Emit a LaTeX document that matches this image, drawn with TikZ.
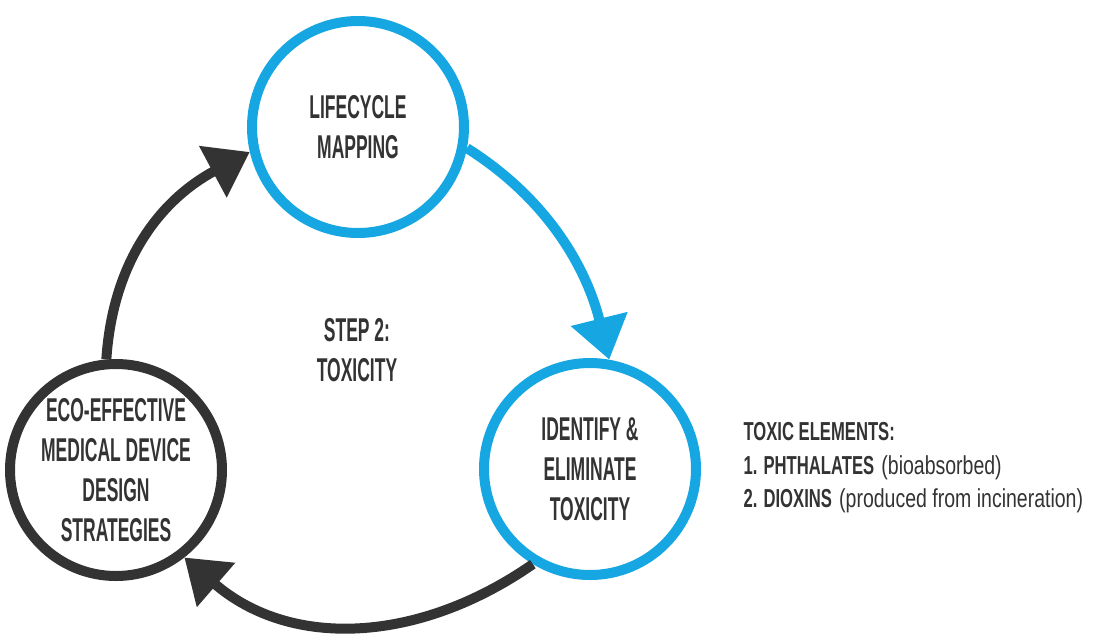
\documentclass[tikz,border=0pt]{standalone}
\usepackage{fontspec}
\setmainfont{Liberation Sans}
\newfontfamily\circfont{Liberation Sans}[FakeStretch=0.53]
\newfontfamily\notefont{Liberation Sans}[FakeStretch=0.64]
\newfontfamily\notelight{Liberation Sans}[FakeStretch=0.75]
\usetikzlibrary{arrows.meta}
\definecolor{cycleblue}{RGB}{22,167,226}
\definecolor{cycledark}{RGB}{51,51,51}

\begin{document}
\begin{tikzpicture}[x=1pt,y=-1pt,
		stage/.style={circle,draw=#1,line width=10pt,minimum size=212pt,inner sep=0pt,
			text=cycledark,align=center,font=\circfont\bfseries\fontsize{33}{40}\selectfont},
		flow/.style={draw=#1,line width=10pt,-{Triangle[length=42pt,width=56pt]}}]
			\useasboundingbox (0,0) rectangle (1094,633);
			
			% Stages of the cycle
			\node[stage=cycleblue] (life) at (358,127) {LIFECYCLE\\MAPPING};
			\node[stage=cycleblue] (elim) at (590,469) {IDENTIFY \&\\ELIMINATE\\TOXICITY};
			\node[stage=cycledark] (eco) at (116,470) {ECO-EFFECTIVE\\MEDICAL DEVICE\\DESIGN\\STRATEGIES};
			
			% Step label in the middle
			\node[text=cycledark,align=center,font=\circfont\bfseries\fontsize{33}{40}\selectfont] (step) at (357,350) {STEP 2:\\TOXICITY};
			
			% Arrows between stages
			\draw[flow=cycleblue] (life.-11) .. controls (546,198) and (586,266) .. (elim.80);
			\draw[flow=cycledark] (elim.239) .. controls (418,644) and (290,649) .. (eco.-52);
			\draw[flow=cycledark] (eco.95) .. controls (113,259) and (162,199) .. (life.193);
			
			% Notes on the right
			\node[anchor=west,align=left,text=cycledark,font=\fontsize{26}{33.5}\selectfont] (toxic) at (740,468)
				{{\notefont\bfseries TOXIC ELEMENTS:}\\
				 {\notefont\bfseries 1. PHTHALATES} {\notelight(bioabsorbed)}\\
				 {\notefont\bfseries 2. DIOXINS} {\notelight(produced from incineration)}};
		\end{tikzpicture}
\end{document}
